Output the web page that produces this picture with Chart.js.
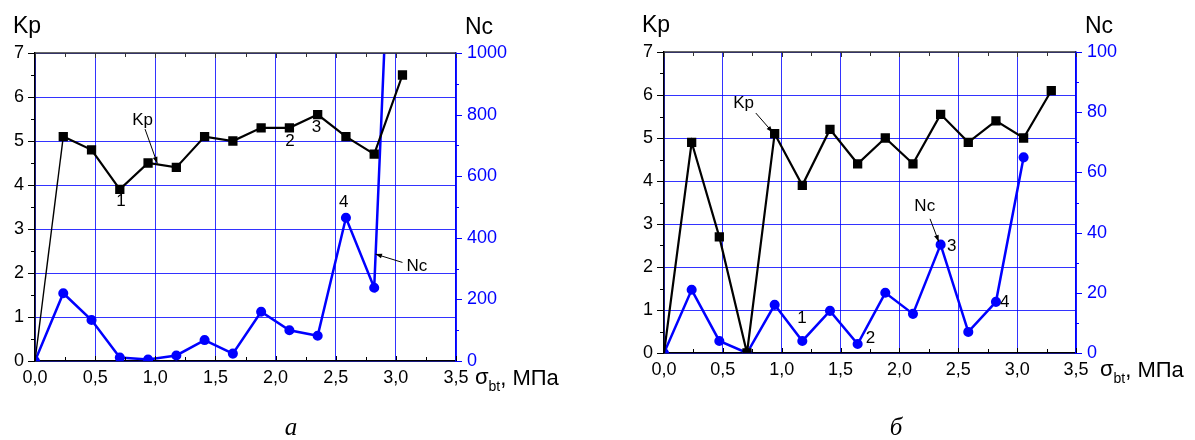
<!DOCTYPE html>
<html lang="ru">
<head>
<meta charset="UTF-8">
<title>Kp и Nc от σbt</title>
<script src="https://cdn.jsdelivr.net/npm/chart.js@4"></script>
<style>
  html, body { margin: 0; padding: 0; background: #fff; }
  body { width: 1195px; height: 440px; position: relative; overflow: hidden; }
  .panel { position: absolute; top: 0; }
</style>
</head>
<body>
<div class="panel" style="left:0"><canvas id="chartA" width="600" height="440"></canvas></div>
<div class="panel" style="left:600px"><canvas id="chartB" width="595" height="440"></canvas></div>
<script>
// σbt, МПа (общая ось X)
const sigma = [0, 0.235, 0.47, 0.705, 0.94, 1.175, 1.41, 1.645, 1.88, 2.115, 2.35, 2.585, 2.82, 3.055, 3.29];
const xTicks = [0, 0.5, 1, 1.5, 2, 2.5, 3, 3.5];

// график а
const kpA = [0, 5.1, 4.8, 3.9, 4.5, 4.4, 5.1, 5.0, 5.3, 5.3, 5.6, 5.1, 4.7, 6.5];
const ncA = [0, 220, 133, 11, 5, 18, 68, 24, 160, 100, 82, 465, 238, 2400];

// график б
const kpB = [0, 4.9, 2.7, 0, 5.1, 3.9, 5.2, 4.4, 5.0, 4.4, 5.55, 4.9, 5.4, 5.0, 6.1];
const ncB = [0, 21, 4, 0, 16, 4, 14, 3, 20, 13, 36, 7, 17, 65];

const FONT = "'Liberation Sans', Arial, sans-serif";
const GRID = 'rgba(0,0,255,0.8)';
const BLUE = '#0000ff';

function arrow(ctx, x0, y0, x1, y1) {
  ctx.beginPath();
  ctx.moveTo(x0, y0);
  ctx.lineTo(x1, y1);
  ctx.stroke();
  const ang = Math.atan2(y1 - y0, x1 - x0);
  ctx.beginPath();
  ctx.moveTo(x1, y1);
  ctx.lineTo(x1 - 7 * Math.cos(ang - 0.35), y1 - 7 * Math.sin(ang - 0.35));
  ctx.lineTo(x1 - 7 * Math.cos(ang + 0.35), y1 - 7 * Math.sin(ang + 0.35));
  ctx.closePath();
  ctx.fill();
}

// рамка, засечки, подписи
const frame = {
  id: 'frame',
  afterDraw(chart) {
    const o = chart.options.plugins.frame;
    const { ctx, chartArea: a, scales: { x, y, y1 } } = chart;
    ctx.save();

    // верхняя граница
    ctx.strokeStyle = '#333';
    ctx.lineWidth = 1.5;
    ctx.beginPath();
    ctx.moveTo(a.left, a.top);
    ctx.lineTo(a.right, a.top);
    ctx.stroke();

    // засечки по X (внутрь)
    ctx.lineWidth = 1;
    for (let i = 0; i <= 14; i++) {
      const v = i * 0.25;
      const px = Math.round(x.getPixelForValue(v)) + 0.5;
      const len = i % 2 === 0 ? 5 : 4;
      ctx.strokeStyle = '#333';
      ctx.beginPath(); ctx.moveTo(px, a.top); ctx.lineTo(px, a.top + len); ctx.stroke();
      ctx.strokeStyle = '#000';
      ctx.beginPath(); ctx.moveTo(px, a.bottom); ctx.lineTo(px, a.bottom - len); ctx.stroke();
    }
    // засечки Kp (наружу)
    ctx.strokeStyle = '#000';
    for (let i = 0; i <= 14; i++) {
      const py = Math.round(y.getPixelForValue(i * 0.5)) + 0.5;
      const len = i % 2 === 0 ? 7 : 4;
      ctx.beginPath(); ctx.moveTo(a.left, py); ctx.lineTo(a.left - len, py); ctx.stroke();
    }
    // засечки Nc (наружу)
    ctx.strokeStyle = BLUE;
    for (let i = 0; i <= 10; i++) {
      const py = Math.round(y1.getPixelForValue(i * o.ncMax / 10)) + 0.5;
      const len = i % 2 === 0 ? 6 : 3;
      ctx.beginPath(); ctx.moveTo(a.right, py); ctx.lineTo(a.right + len, py); ctx.stroke();
    }

    // заголовки осей
    ctx.fillStyle = '#000';
    ctx.font = '23px ' + FONT;
    ctx.textAlign = 'left';
    ctx.textBaseline = 'alphabetic';
    ctx.fillText('Kp', a.left - 22, a.top - 20);
    ctx.fillText('Nc', a.right + 9, a.top - 19);

    // σbt, МПа
    let tx = a.right + o.sigmaGap;
    const by = a.bottom + 24;
    ctx.font = '22px ' + FONT;
    ctx.fillText('σ', tx, by - 1);
    tx += ctx.measureText('σ').width;
    ctx.font = '14px ' + FONT;
    ctx.fillText('bt', tx, by + 6);
    tx += ctx.measureText('bt').width;
    ctx.font = '22px ' + FONT;
    ctx.fillText(', МПа', tx, by);

    // подписи на поле графика
    ctx.textAlign = 'center';
    ctx.textBaseline = 'middle';
    ctx.font = '17px ' + FONT;
    o.notes.forEach(n => {
      ctx.fillText(n.t, x.getPixelForValue(n.x), y.getPixelForValue(n.y));
    });
    ctx.strokeStyle = '#000';
    ctx.lineWidth = 1;
    o.arrows.forEach(r => {
      arrow(ctx, x.getPixelForValue(r[0]), y.getPixelForValue(r[1]),
                 x.getPixelForValue(r[2]), y.getPixelForValue(r[3]));
    });

    // буква под графиком
    ctx.font = 'italic 25px "Liberation Serif", "Times New Roman", serif';
    ctx.fillText(o.letter, o.letterX, 428);
    ctx.restore();
  }
};

function makeChart(id, kp, nc, c) {
  const pts = ys => ys.map((v, i) => ({ x: sigma[i], y: v }));
  return new Chart(document.getElementById(id), {
    type: 'line',
    data: {
      datasets: [
        {
          label: 'Kp', data: pts(kp), yAxisID: 'y',
          borderColor: '#000', backgroundColor: '#000', borderWidth: 2.2,
          pointStyle: 'rect', pointRadius: ctx => ctx.dataIndex === 0 ? 0 : 5,
          segment: { borderWidth: ctx => ctx.p0DataIndex === 0 ? c.firstWidth : 2.2 }
        },
        {
          label: 'Nc', data: pts(nc), yAxisID: 'y1',
          borderColor: BLUE, backgroundColor: BLUE, borderWidth: 2.5,
          pointStyle: 'circle', pointRadius: 3.8
        }
      ]
    },
    options: {
      responsive: false,
      animation: false,
      events: [],
      layout: { padding: { top: c.top, left: 0, right: 0, bottom: 0 } },
      plugins: {
        legend: { display: false },
        tooltip: { enabled: false },
        frame: c
      },
      scales: {
        x: {
          type: 'linear', min: 0, max: 3.5,
          afterBuildTicks: s => { s.ticks = xTicks.map(v => ({ value: v })); },
          ticks: {
            callback: v => v.toFixed(1).replace('.', ','),
            color: '#000', font: { size: 18, family: FONT }, padding: 6,
            maxRotation: 0, autoSkip: false
          },
          grid: { color: GRID, lineWidth: 1, drawTicks: false },
          border: { color: '#000', width: 1.5 },
          afterFit: s => { s.height = 440 - c.bottom; }
        },
        y: {
          position: 'left', min: 0, max: 7,
          ticks: { stepSize: 1, color: '#000', font: { size: 18, family: FONT }, padding: 11 },
          grid: { color: GRID, lineWidth: 1, drawTicks: false },
          border: { color: '#000', width: 1.5 },
          afterFit: s => { s.width = c.left; }
        },
        y1: {
          position: 'right', min: 0, max: c.ncMax,
          ticks: {
            stepSize: c.ncMax / 5, color: BLUE, font: { size: 18, family: FONT }, padding: 11,
            callback: v => String(v)
          },
          grid: { drawOnChartArea: false, drawTicks: false },
          border: { color: BLUE, width: 1.5 },
          afterFit: s => { s.width = c.width - c.right; }
        }
      }
    },
    plugins: [frame]
  });
}

makeChart('chartA', kpA, ncA, {
  width: 600, left: 35, right: 456, top: 53, bottom: 361,
  ncMax: 1000, sigmaGap: 19, firstWidth: 1.4,
  letter: 'а', letterX: 291,
  notes: [
    { t: 'Kp', x: 0.895, y: 5.46 }, { t: '1', x: 0.715, y: 3.62 },
    { t: '2', x: 2.12, y: 4.99 }, { t: '3', x: 2.34, y: 5.31 },
    { t: '4', x: 2.566, y: 3.6 }, { t: 'Nc', x: 3.175, y: 2.16 }
  ],
  arrows: [[0.915, 5.27, 1.017, 4.49], [3.055, 2.24, 2.83, 2.43]]
});

makeChart('chartB', kpB, ncB, {
  width: 595, left: 64, right: 476, top: 52, bottom: 353,
  ncMax: 100, sigmaGap: 24, firstWidth: 2.2,
  letter: 'б', letterX: 296,
  notes: [
    { t: 'Kp', x: 0.676, y: 5.81 }, { t: 'Nc', x: 2.215, y: 3.42 },
    { t: '1', x: 1.172, y: 0.8 }, { t: '2', x: 1.755, y: 0.34 },
    { t: '3', x: 2.444, y: 2.47 }, { t: '4', x: 2.894, y: 1.17 }
  ],
  arrows: [[0.78, 5.58, 0.924, 5.13], [2.26, 3.12, 2.334, 2.59]]
});
</script>
</body>
</html>
